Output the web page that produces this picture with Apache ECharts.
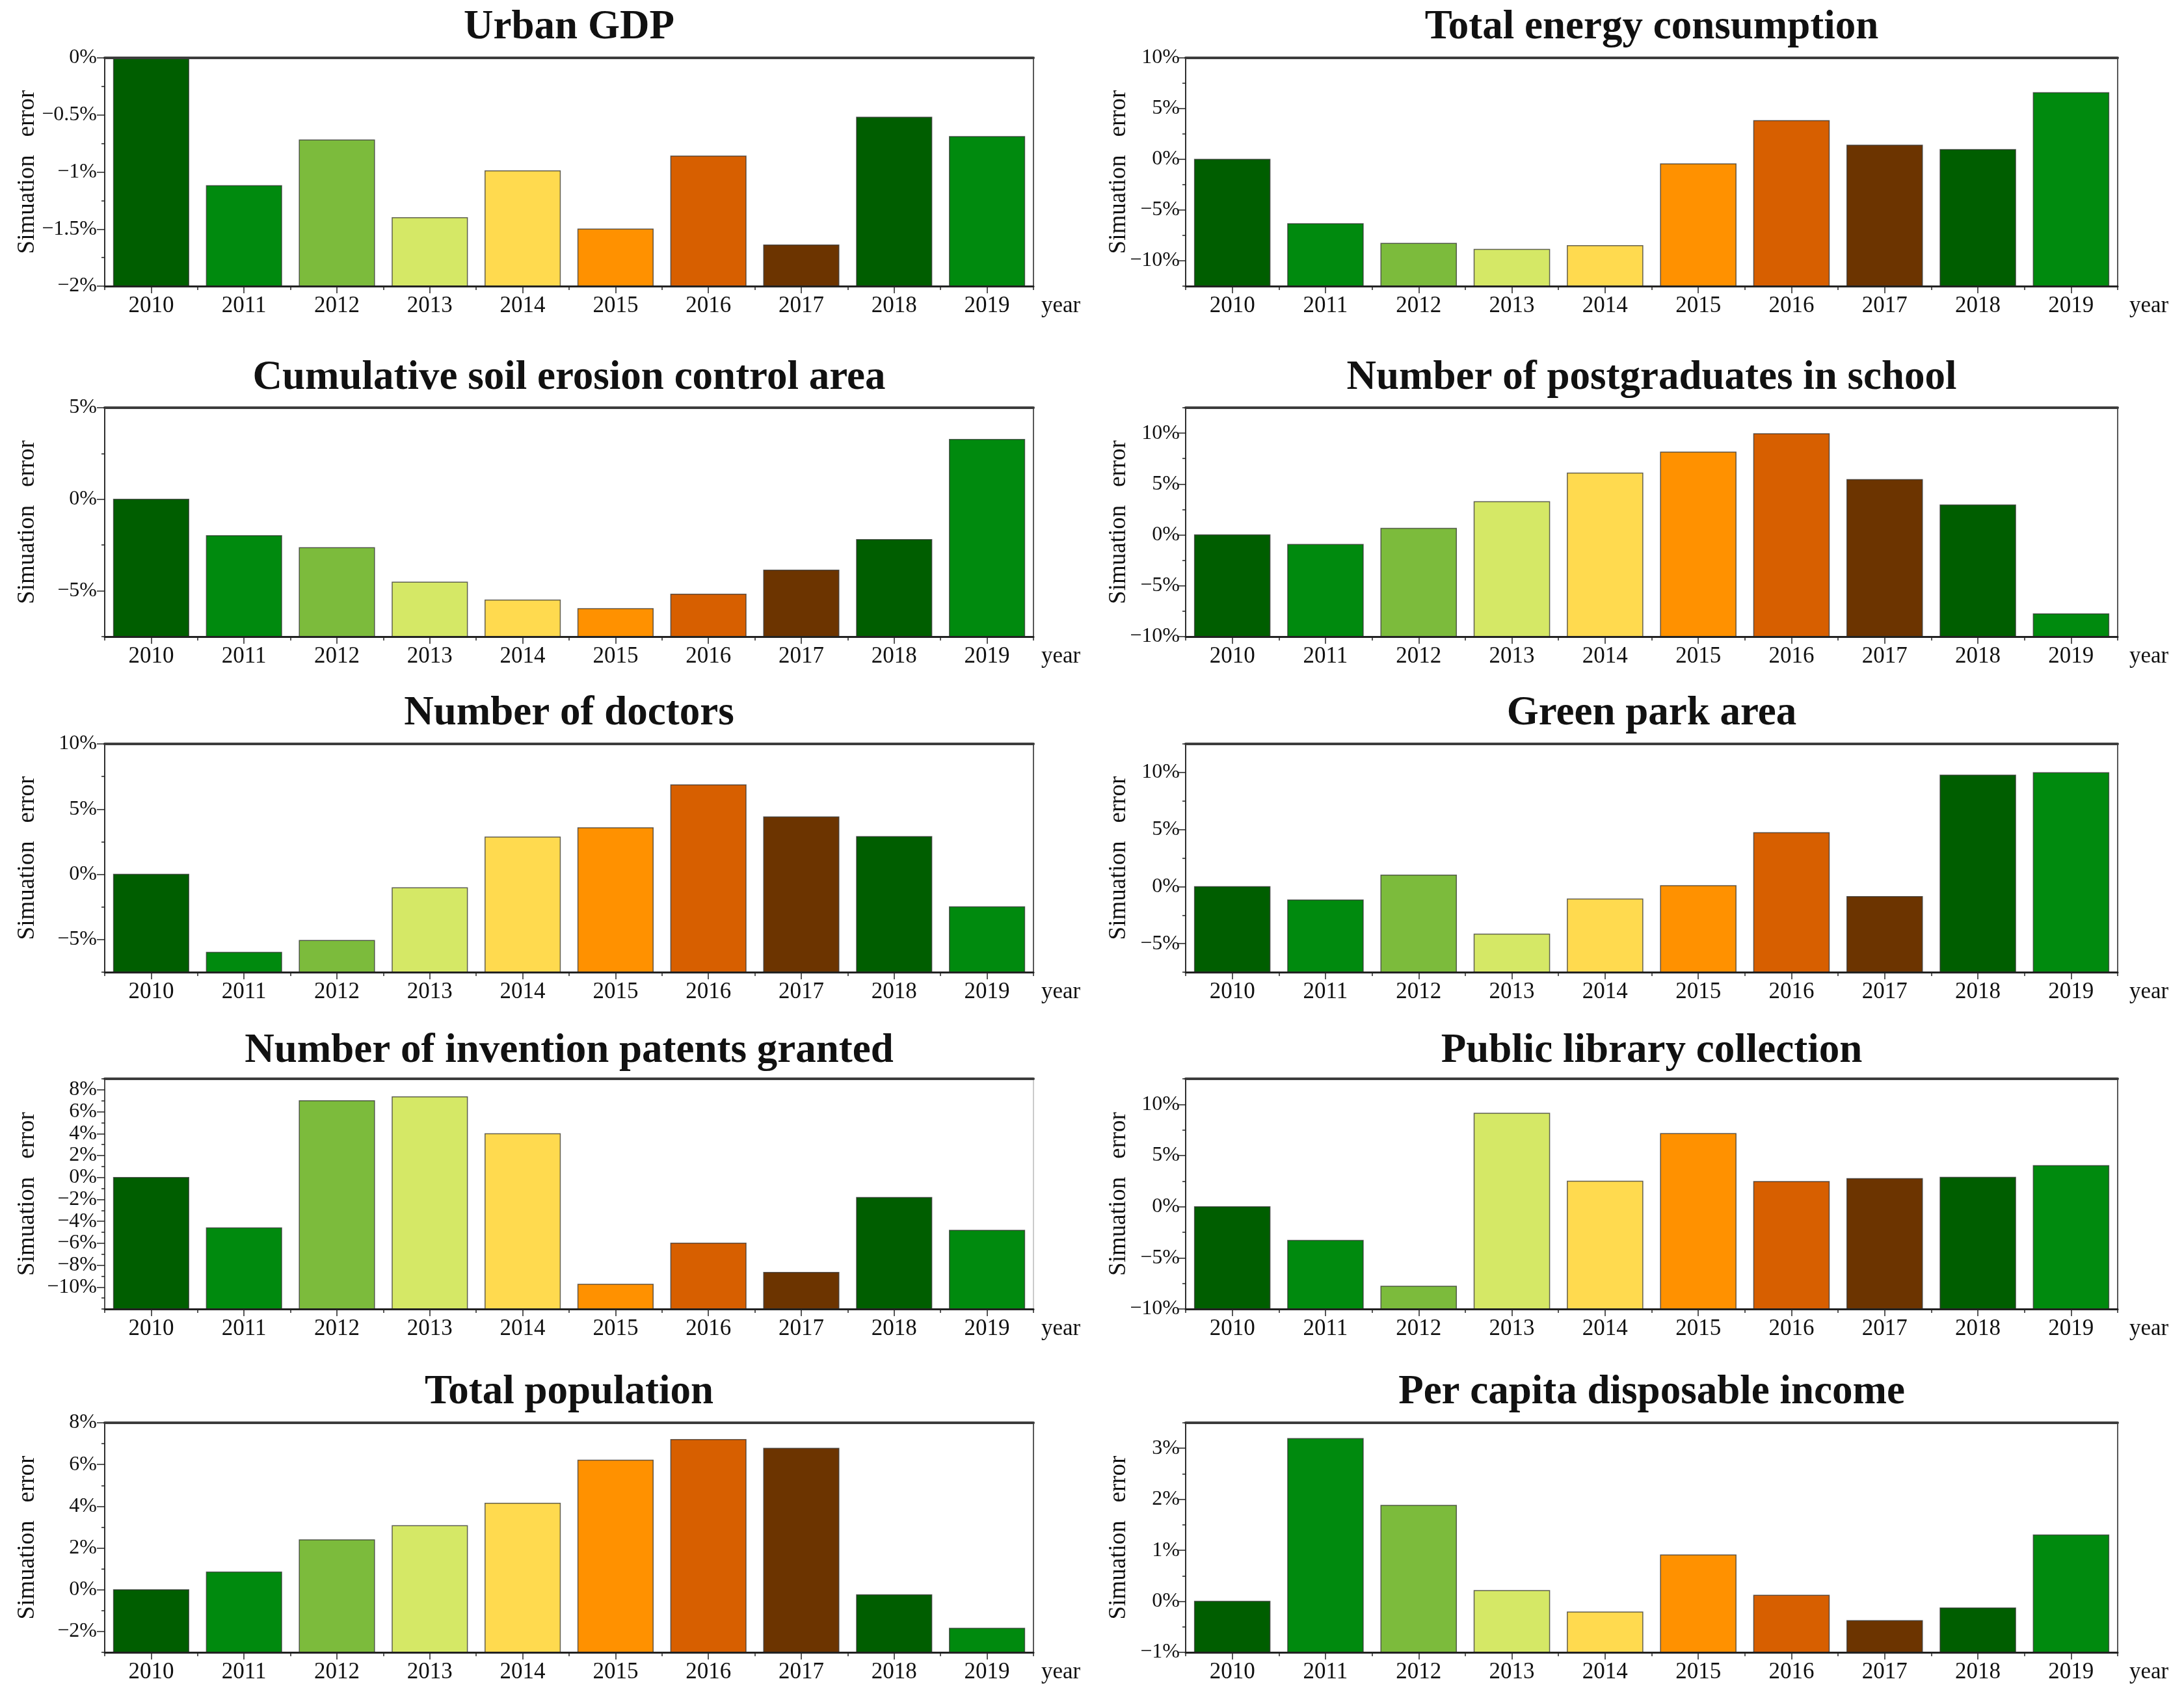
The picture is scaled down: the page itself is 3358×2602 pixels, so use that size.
<!DOCTYPE html>
<html><head><meta charset="utf-8">
<script src="https://cdn.jsdelivr.net/npm/echarts@6/dist/echarts.min.js"></script>
<style>html,body{margin:0;padding:0;background:#fff}#c{width:3358px;height:2602px}</style>
</head><body><div id="c"></div>
<script>
const years = ['2010','2011','2012','2013','2014','2015','2016','2017','2018','2019'];
const barColors = ['#005E00','#008A0E','#7CBB3C','#D5E866','#FFDA4F','#FF9100','#D75F00','#6C3400','#005E00','#008A0E'];

const urbanGDP   = [0, -1.12, -0.72, -1.40, -0.99, -1.50, -0.86, -1.64, -0.52, -0.69];
const energy     = [0, -6.35, -8.28, -8.88, -8.51, -0.45, 3.81, 1.39, 0.96, 6.57];
const soil       = [0, -1.99, -2.64, -4.53, -5.50, -5.97, -5.18, -3.87, -2.20, 3.27];
const postgrad   = [0, -0.94, 0.64, 3.27, 6.07, 8.14, 9.94, 5.43, 2.95, -7.76];
const doctors    = [0, -5.98, -5.07, -1.03, 2.86, 3.57, 6.86, 4.40, 2.89, -2.49];
const greenPark  = [0, -1.18, 1.01, -4.17, -1.09, 0.08, 4.72, -0.88, 9.77, 9.98];
const patents    = [0, -4.60, 7.00, 7.35, 3.99, -9.74, -5.99, -8.66, -1.82, -4.82];
const library    = [0, -3.30, -7.77, 9.13, 2.49, 7.15, 2.45, 2.74, 2.87, 4.02];
const population = [0, 0.85, 2.39, 3.07, 4.14, 6.21, 7.20, 6.78, -0.24, -1.85];
const income     = [0, 3.19, 1.88, 0.21, -0.21, 0.91, 0.12, -0.38, -0.13, 1.30];

const gdpTicks     = [-2, -1.5, -1, -0.5, 0];
const tenTicks     = [-10, -5, 0, 5, 10];
const soilTicks    = [-5, 0, 5];
const fiveTicks    = [-5, 0, 5, 10];
const patentTicks  = [-10, -8, -6, -4, -2, 0, 2, 4, 6, 8];
const popTicks     = [-2, 0, 2, 4, 6, 8];
const incomeTicks  = [-1, 0, 1, 2, 3];

const panels = [
  {title:'Urban GDP', data:urbanGDP, min:-2, max:0, ticks:gdpTicks, minor:0.25},
  {title:'Total energy consumption', data:energy, min:-12.5, max:10, ticks:tenTicks, minor:2.5},
  {title:'Cumulative soil erosion control area', data:soil, min:-7.5, max:5, ticks:soilTicks, minor:2.5},
  {title:'Number of postgraduates in school', data:postgrad, min:-10, max:12.5, ticks:tenTicks, minor:2.5},
  {title:'Number of doctors', data:doctors, min:-7.5, max:10, ticks:fiveTicks, minor:2.5},
  {title:'Green park area', data:greenPark, min:-7.5, max:12.5, ticks:fiveTicks, minor:2.5},
  {title:'Number of invention patents granted', data:patents, min:-12, max:9, ticks:patentTicks, minor:1},
  {title:'Public library collection', data:library, min:-10, max:12.5, ticks:tenTicks, minor:2.5},
  {title:'Total population', data:population, min:-3, max:8, ticks:popTicks, minor:1},
  {title:'Per capita disposable income', data:income, min:-1, max:3.5, ticks:incomeTicks, minor:0.5}
];

const colLeft = [161, 1823], colWidth = [1428, 1433];
const rowTop = [89, 627, 1144, 1659, 2188], rowHeight = [351, 352, 351, 354, 353];
const titleY = [43, 582, 1098, 1617, 2142];
const FONT = '"Liberation Serif", "Times New Roman", serif';
const INK = '#111';

function fmt(v) {
  const a = Math.round(Math.abs(v) * 100) / 100;
  return (v < -1e-9 ? '\u2212' : '') + a + '%';
}

const option = {backgroundColor:'#fff', animation:false, title:[], grid:[], xAxis:[], yAxis:[], series:[]};

panels.forEach((p, k) => {
  const row = Math.floor(k / 2), col = k % 2;
  const left = colLeft[col], width = colWidth[col], top = rowTop[row], height = rowHeight[row];
  option.title.push({
    text: p.title, left: left + width / 2, top: titleY[row], padding: 0,
    textAlign: 'center', textVerticalAlign: 'middle',
    textStyle: {fontFamily: FONT, fontSize: 63, fontWeight: 'bold', color: INK}
  });
  option.grid.push({left, top, width, height, show: true, borderColor: k === 6 ? '#bbb' : '#222', borderWidth: 1.5, backgroundColor: 'transparent'});
  const tickStyle = {color: '#222', width: 1.5};
  option.xAxis.push({
    gridIndex: k, type: 'category', data: years, position: 'bottom', boundaryGap: true, z: 5,
    axisLine: {onZero: false, lineStyle: {color: '#222', width: 3}},
    axisTick: {show: true, alignWithLabel: false, length: 6, lineStyle: tickStyle},
    axisLabel: {fontFamily: FONT, fontSize: 35, color: INK, margin: 13, interval: 0},
    name: 'year', nameLocation: 'end', nameGap: col ? 18 : 12,
    nameTextStyle: {fontFamily: FONT, fontSize: 35, color: INK, verticalAlign: 'top', padding: [13, 0, 0, 0]}
  });
  option.xAxis.push({
    gridIndex: k, type: 'category', data: years, position: 'bottom', boundaryGap: true, z: 5,
    axisLine: {show: false, onZero: false},
    axisTick: {show: true, alignWithLabel: true, length: 11, lineStyle: tickStyle},
    axisLabel: {show: false}
  });
  option.xAxis.push({
    gridIndex: k, type: 'category', data: years, position: 'top', boundaryGap: true, z: 5,
    axisLine: {show: true, onZero: false, lineStyle: {color: '#3c3c3c', width: 4}},
    axisTick: {show: false}, axisLabel: {show: false}
  });
  option.yAxis.push({
    gridIndex: k, type: 'value', min: p.min, max: p.max, position: 'left', z: 5,
    axisLine: {show: true, onZero: false, lineStyle: {color: '#222', width: 1.5}},
    axisTick: {show: true, customValues: p.ticks, length: 12, lineStyle: tickStyle},
    axisLabel: {customValues: p.ticks, formatter: fmt, fontFamily: FONT, fontSize: 32, color: INK, margin: col ? 9 : 12},
    splitLine: {show: false},
    name: 'Simuation   error', nameLocation: 'middle', nameRotate: 90, nameGap: col ? 84 : 100,
    nameMoveOverlap: false,
    nameTextStyle: {fontFamily: FONT, fontSize: 37, color: INK}
  });
  option.yAxis.push({
    gridIndex: k, type: 'value', min: p.min, max: p.max, interval: p.minor, position: 'left', z: 5,
    axisLine: {show: false, onZero: false},
    axisTick: {show: true, length: 5, lineStyle: tickStyle},
    axisLabel: {show: false}, splitLine: {show: false}
  });
  option.series.push({
    type: 'custom', name: p.title, xAxisIndex: k * 3, yAxisIndex: k * 2, clip: true, z: 2,
    data: p.data.map((v, i) => [years[i], v]),
    renderItem: (params, api) => {
      const idx = api.value(0);
      const topPt = api.coord([idx, api.value(1)]);
      const botPt = api.coord([idx, p.min]);
      const w = api.size([1, 0])[0] * 0.81;
      return {
        type: 'rect',
        shape: {x: topPt[0] - w / 2, y: topPt[1], width: w, height: botPt[1] - topPt[1]},
        style: {fill: barColors[params.dataIndex], stroke: 'rgba(50,50,50,0.75)', lineWidth: 1.5}
      };
    }
  });
});

const chart = echarts.init(document.getElementById('c'), null, {renderer: 'canvas'});
chart.setOption(option);
</script>
</body></html>
